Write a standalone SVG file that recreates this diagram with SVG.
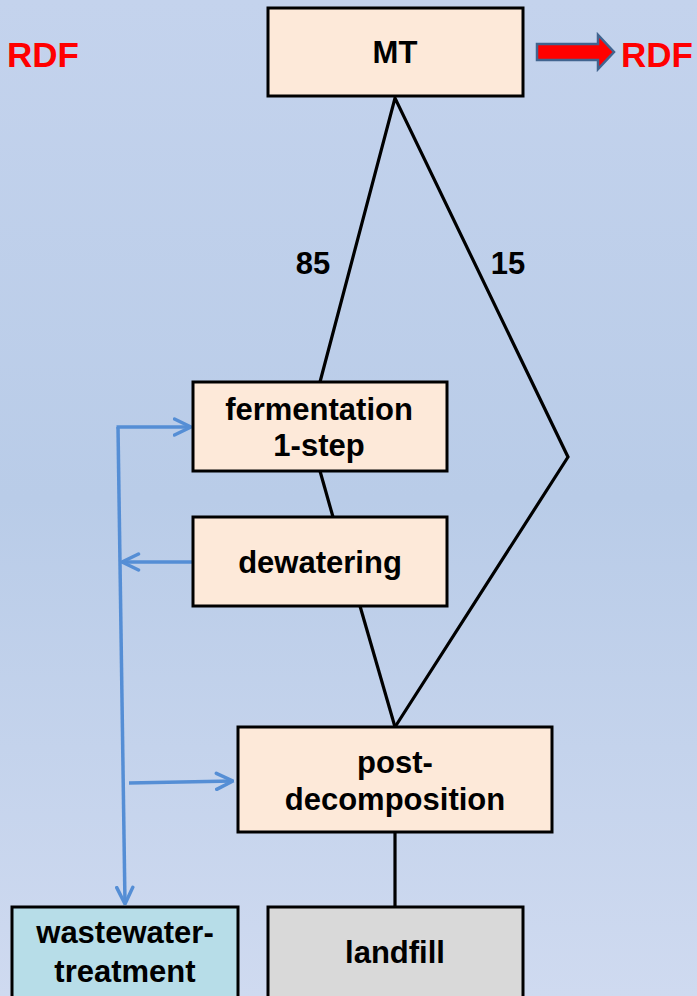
<svg xmlns="http://www.w3.org/2000/svg" width="697" height="996" viewBox="0 0 697 996">
<defs>
<linearGradient id="bg" x1="0" y1="0" x2="0" y2="1">
<stop offset="0" stop-color="#c4d3ed"/>
<stop offset="0.5" stop-color="#b9cce8"/>
<stop offset="1" stop-color="#cfdaf0"/>
</linearGradient>
<marker id="ah" viewBox="0 0 20 20" refX="18.5" refY="10" markerWidth="20" markerHeight="20" markerUnits="userSpaceOnUse" orient="auto">
<path d="M2,2 L18.5,10 L2,18" fill="none" stroke="#558ed5" stroke-width="3.5" stroke-linecap="round" stroke-linejoin="round"/>
</marker>
<style>
.box{stroke:#000;stroke-width:3}
.proc{fill:#fde9d9}
.t{font-family:"Liberation Sans",Arial,sans-serif;font-weight:bold;font-size:31px;fill:#000;text-anchor:middle}
.red{font-family:"Liberation Sans",Arial,sans-serif;font-weight:bold;font-size:35px;fill:#ff0000}
.flow{fill:none;stroke:#000;stroke-width:3.2;stroke-linejoin:miter}
.blue{fill:none;stroke:#558ed5;stroke-width:3.5}
</style>
</defs>
<rect width="697" height="996" fill="url(#bg)"/>

<g id="connectors">
<polyline class="flow" points="320,382 395,98 568,457 395,727"/>
<line class="flow" x1="320" y1="471" x2="333" y2="517"/>
<line class="flow" x1="360" y1="606" x2="395" y2="727"/>
<line class="flow" x1="395" y1="832" x2="395" y2="907"/>
<line class="blue" x1="118" y1="427" x2="125" y2="904" marker-end="url(#ah)"/>
<line class="blue" x1="116.5" y1="427" x2="191" y2="427" marker-end="url(#ah)"/>
<line class="blue" x1="193" y1="562" x2="122" y2="562" marker-end="url(#ah)"/>
<line class="blue" x1="129" y1="783" x2="233" y2="781" marker-end="url(#ah)"/>
<text class="t" x="313" y="274" font-size="29">85</text>
<text class="t" x="508" y="274" font-size="29">15</text>
</g>

<g id="rdf-left">
<text class="red" x="7" y="67">RDF</text>
</g>

<g id="rdf-arrow">
<path d="M537,44 L598,44 L598,35 L614,52 L598,69 L598,60 L537,60 Z" fill="#ff0000" stroke="#41648f" stroke-width="2.5" stroke-linejoin="miter"/>
<text class="red" x="621" y="67">RDF</text>
</g>

<g id="mt">
<rect class="box proc" x="268" y="8" width="255" height="88"/>
<text class="t" x="395" y="63">MT</text>
</g>

<g id="fermentation">
<rect class="box proc" x="193" y="382" width="254" height="89"/>
<text class="t" x="319" y="420">fermentation</text>
<text class="t" x="319" y="456">1-step</text>
</g>

<g id="dewatering">
<rect class="box proc" x="193" y="517" width="254" height="89"/>
<text class="t" x="320" y="573">dewatering</text>
</g>

<g id="post-decomposition">
<rect class="box proc" x="238" y="727" width="314" height="105"/>
<text class="t" x="395" y="773">post-</text>
<text class="t" x="395" y="810">decomposition</text>
</g>

<g id="wastewater-treatment">
<rect class="box" fill="#b7dde8" x="12" y="907" width="226" height="95"/>
<text class="t" x="125" y="943">wastewater-</text>
<text class="t" x="125" y="982">treatment</text>
</g>

<g id="landfill">
<rect class="box" fill="#d9d9d9" x="268" y="907" width="255" height="95"/>
<text class="t" x="395" y="963">landfill</text>
</g>
</svg>
